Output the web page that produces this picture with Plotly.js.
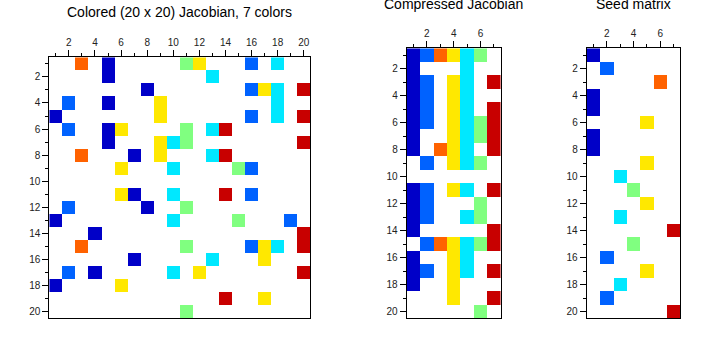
<!DOCTYPE html>
<html>
<head>
<meta charset="utf-8">
<script src="https://cdn.plot.ly/plotly-3.0.1.min.js"></script>
<style>html,body{margin:0;padding:0;background:#fff;}#chart{width:720px;height:364px;}</style>
</head>
<body>
<div id="chart"></div>
<script>
// Color palette index 1..7
const colorNames = ['#0000C8', '#0062FF', '#FF6200', '#FFE800', '#00E8FF', '#80FF80', '#C80000'];

// Color assigned to each of the 20 Jacobian columns (1..7)
const columnColor = [1, 2, 3, 1, 1, 4, 1, 1, 4, 5, 6, 4, 5, 7, 6, 2, 4, 5, 2, 7];

// Nonzero columns of each Jacobian row (rows 1..20)
const jacobianRows = [
  [3, 5, 11, 12, 16, 18],
  [5, 13],
  [8, 16, 17, 18, 20],
  [2, 5, 9, 18],
  [1, 9, 16, 18, 20],
  [2, 5, 6, 11, 13, 14],
  [5, 9, 10, 11, 20],
  [3, 7, 9, 13, 14],
  [6, 10, 15, 16],
  [],
  [6, 7, 10, 14, 16],
  [2, 8, 11],
  [1, 10, 15, 19],
  [4, 20],
  [3, 11, 16, 17, 18, 20],
  [7, 13, 17],
  [2, 4, 10, 12, 20],
  [1, 6],
  [14, 17],
  [11]
];

// Nonzero columns of each compressed Jacobian row (column k has color k)
const compressedRows = [
  [1, 2, 3, 4, 5, 6],
  [1, 5],
  [1, 2, 4, 5, 7],
  [1, 2, 4, 5],
  [1, 2, 4, 5, 7],
  [1, 2, 4, 5, 6, 7],
  [1, 4, 5, 6, 7],
  [1, 3, 4, 5, 7],
  [2, 4, 5, 6],
  [],
  [1, 2, 4, 5, 7],
  [1, 2, 6],
  [1, 2, 5, 6],
  [1, 7],
  [2, 3, 4, 5, 6, 7],
  [1, 4, 5],
  [1, 2, 4, 5, 7],
  [1, 4],
  [4, 7],
  [6]
];

// Seed matrix: column position of the single entry in each row
const seedColumn = [1, 2, 6, 1, 1, 5, 1, 1, 5, 3, 4, 5, 3, 7, 4, 2, 5, 3, 2, 7];

const tickVals = [2, 4, 6, 8, 10, 12, 14, 16, 18, 20];
const titles = ['Colored (20 x 20) Jacobian, 7 colors', 'Compressed Jacobian', 'Seed matrix'];

function range(n) { const a = []; for (let i = 1; i <= n; i++) a.push(i); return a; }
function emptyMatrix(r, c) { return Array.from({length: r}, () => Array(c).fill(null)); }

const zJac = emptyMatrix(20, 20);
jacobianRows.forEach((cols, i) => cols.forEach(c => { zJac[i][c - 1] = columnColor[c - 1]; }));
const zComp = emptyMatrix(20, 7);
compressedRows.forEach((cols, i) => cols.forEach(c => { zComp[i][c - 1] = c; }));
const zSeed = emptyMatrix(20, 7);
seedColumn.forEach((c, i) => { zSeed[i][c - 1] = columnColor[i]; });

const colorscale = [];
colorNames.forEach((col, i) => { colorscale.push([i / 7, col]); colorscale.push([(i + 1) / 7, col]); });

function hm(z, nx, xa, ya) {
  return {type: 'heatmap', z: z, x: range(nx), y: range(20), xaxis: xa, yaxis: ya,
    colorscale: colorscale, zmin: 0.5, zmax: 7.5, showscale: false, zsmooth: false, hoverongaps: false};
}

const data = [hm(zJac, 20, 'x', 'y'), hm(zComp, 7, 'x2', 'y2'), hm(zSeed, 7, 'x3', 'y3')];

const W = 720, H = 364;
const fontTick = {family: 'Liberation Sans, Arial, sans-serif', size: 10, color: '#222'};
function xax(l, r, n, anchor) {
  return {domain: [l / W, r / W], range: [0.5, n + 0.5], side: 'top', anchor: anchor,
    tickmode: 'array', tickvals: tickVals.filter(v => v <= n), ticks: 'outside', ticklen: 6, tickwidth: 1, tickcolor: '#000',
    minor: {dtick: 1, tick0: 1, ticks: 'outside', ticklen: 3, tickwidth: 1, tickcolor: '#000'},
    showline: true, linecolor: '#000', linewidth: 1, mirror: true, showgrid: false, zeroline: false,
    tickfont: fontTick, fixedrange: true};
}
function yax(top, bot, anchor) {
  return {domain: [(H - bot) / H, (H - top) / H], range: [20.5, 0.5], anchor: anchor,
    tickmode: 'array', tickvals: tickVals, ticks: 'outside', ticklen: 6, tickwidth: 1, tickcolor: '#000',
    minor: {dtick: 1, tick0: 1, ticks: 'outside', ticklen: 3, tickwidth: 1, tickcolor: '#000'},
    showline: true, linecolor: '#000', linewidth: 1, mirror: true, showgrid: false, zeroline: false,
    tickfont: fontTick, fixedrange: true};
}

const panels = [
  {l: 49.3, r: 310.3, t: 57.3, b: 318.3, n: 20, ty: 12.5},
  {l: 406.7, r: 500.7, t: 48.3, b: 318.3, n: 7, ty: 4},
  {l: 586.7, r: 680.3, t: 48.3, b: 318.3, n: 7, ty: 4}
];

const layout = {
  width: W, height: H, margin: {l: 0, r: 0, t: 0, b: 0},
  paper_bgcolor: '#fff', plot_bgcolor: '#fff', showlegend: false,
  xaxis: xax(panels[0].l, panels[0].r, 20, 'y'),
  yaxis: yax(panels[0].t, panels[0].b, 'x'),
  xaxis2: xax(panels[1].l, panels[1].r, 7, 'y2'),
  yaxis2: yax(panels[1].t, panels[1].b, 'x2'),
  xaxis3: xax(panels[2].l, panels[2].r, 7, 'y3'),
  yaxis3: yax(panels[2].t, panels[2].b, 'x3'),
  annotations: panels.map((p, i) => ({
    text: titles[i], xref: 'paper', yref: 'paper', x: (p.l + p.r) / 2 / W, y: (H - p.ty) / H,
    xanchor: 'center', yanchor: 'middle', showarrow: false,
    font: {family: 'Liberation Sans, Arial, sans-serif', size: 14, color: '#000'}
  }))
};

Plotly.newPlot('chart', data, layout, {staticPlot: true, displayModeBar: false});
</script>
</body>
</html>
